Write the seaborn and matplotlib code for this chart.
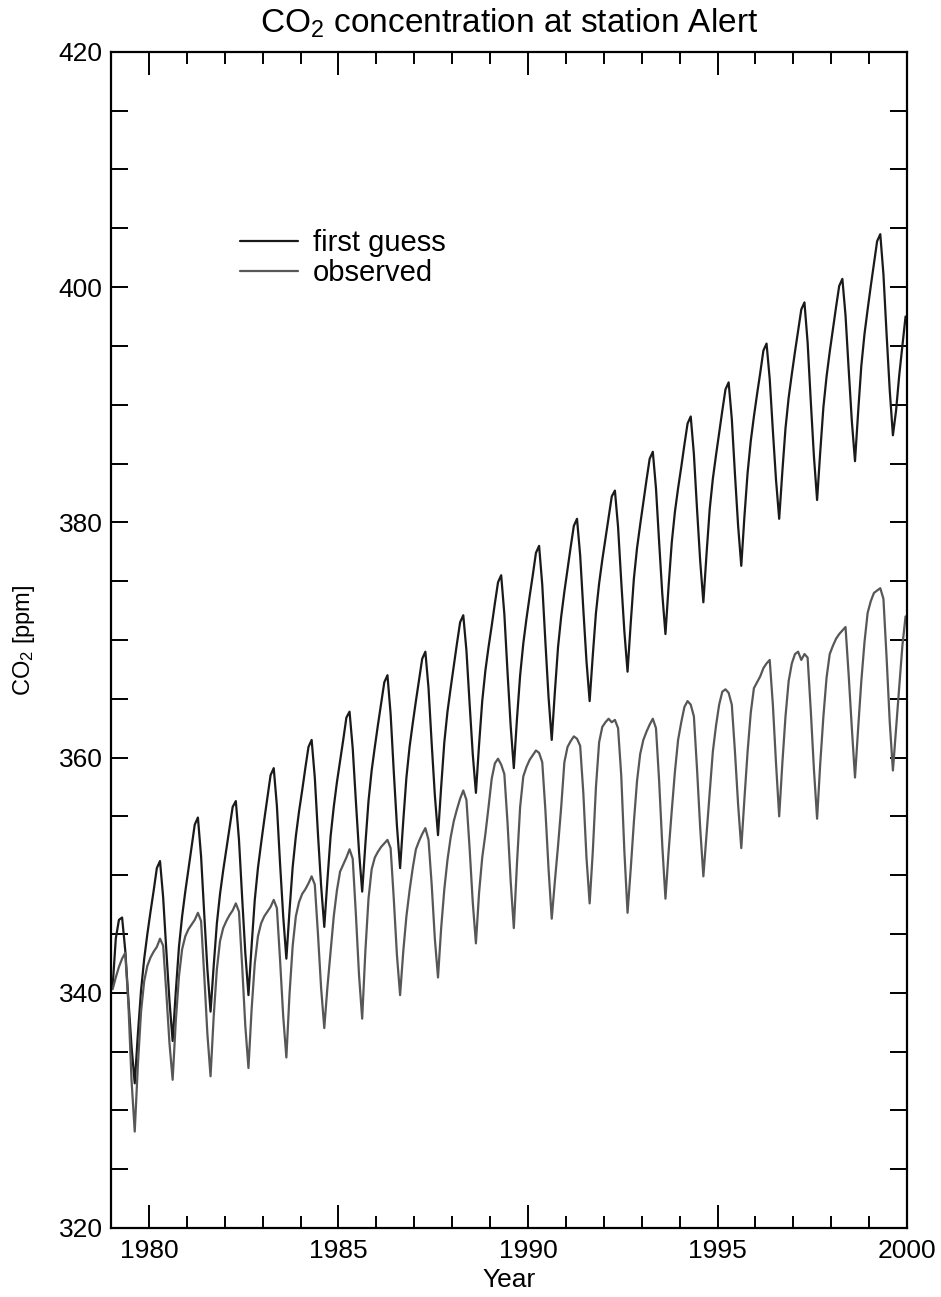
import pandas as pd
import seaborn as sns
import matplotlib
matplotlib.use("Agg")
import matplotlib.pyplot as plt
from matplotlib.ticker import MultipleLocator

# monthly values (ppm), one row per year Jan..Dec
years = list(range(1979, 2000))
months = ['Jan', 'Feb', 'Mar', 'Apr', 'May', 'Jun',
          'Jul', 'Aug', 'Sep', 'Oct', 'Nov', 'Dec']

first_guess = [
    [340.5, 344.6, 346.2, 346.4, 343.6, 339.4, 335.4, 332.3, 336.5, 340.2, 342.9, 345.0],
    [346.9, 348.7, 350.6, 351.2, 348.1, 343.6, 339.3, 335.9, 340.1, 343.9, 346.5, 348.6],
    [350.5, 352.4, 354.3, 354.9, 351.6, 346.7, 342.0, 338.4, 342.3, 345.9, 348.4, 350.4],
    [352.2, 354.0, 355.8, 356.3, 353.0, 348.1, 343.4, 339.8, 344.0, 347.9, 350.6, 352.7],
    [354.7, 356.6, 358.5, 359.1, 355.9, 351.0, 346.5, 342.9, 347.0, 350.7, 353.3, 355.4],
    [357.2, 359.1, 360.9, 361.5, 358.3, 353.5, 349.1, 345.6, 349.6, 353.3, 355.8, 357.9],
    [359.7, 361.5, 363.4, 363.9, 360.8, 356.3, 352.0, 348.6, 352.6, 356.3, 358.9, 360.9],
    [362.8, 364.6, 366.4, 367.0, 363.7, 358.8, 354.2, 350.6, 354.6, 358.3, 360.9, 362.9],
    [364.8, 366.6, 368.4, 369.0, 365.9, 361.2, 356.8, 353.4, 357.5, 361.3, 363.9, 365.9],
    [367.8, 369.7, 371.5, 372.1, 369.1, 364.6, 360.3, 357.0, 361.1, 364.8, 367.4, 369.4],
    [371.2, 373.1, 374.9, 375.5, 372.2, 367.3, 362.7, 359.1, 363.3, 367.0, 369.7, 371.8],
    [373.7, 375.5, 377.4, 378.0, 374.7, 369.8, 365.1, 361.5, 365.6, 369.4, 372.0, 374.1],
    [376.0, 377.9, 379.7, 380.3, 377.2, 372.6, 368.2, 364.8, 368.7, 372.3, 374.8, 376.8],
    [378.6, 380.4, 382.2, 382.7, 379.6, 375.0, 370.7, 367.3, 371.4, 375.2, 377.8, 379.8],
    [381.7, 383.6, 385.4, 386.0, 382.9, 378.3, 373.9, 370.5, 374.6, 378.3, 380.9, 382.9],
    [384.7, 386.6, 388.4, 389.0, 385.8, 381.1, 376.7, 373.2, 377.3, 381.1, 383.7, 385.7],
    [387.6, 389.5, 391.3, 391.9, 388.8, 384.1, 379.7, 376.3, 380.5, 384.2, 386.9, 389.0],
    [390.9, 392.7, 394.6, 395.2, 392.2, 387.8, 383.6, 380.3, 384.3, 388.0, 390.6, 392.6],
    [394.5, 396.3, 398.1, 398.7, 395.3, 390.3, 385.6, 381.9, 386.0, 389.8, 392.4, 394.5],
    [396.4, 398.3, 400.1, 400.7, 397.6, 393.0, 388.6, 385.2, 389.4, 393.3, 396.0, 398.1],
    [400.1, 402.0, 403.9, 404.5, 401.1, 396.0, 391.2, 387.4, 389.5, 392.5, 395.0, 397.5],
]

observed = [
    [340.3, 341.3, 342.2, 342.9, 343.4, 339.0, 332.5, 328.2, 333.9, 338.4, 341.0, 342.3],
    [343.0, 343.5, 343.9, 344.6, 344.0, 340.0, 335.7, 332.6, 337.6, 341.4, 343.7, 344.8],
    [345.4, 345.8, 346.2, 346.8, 346.1, 341.5, 336.5, 332.9, 338.0, 342.0, 344.4, 345.5],
    [346.1, 346.6, 347.0, 347.6, 346.9, 342.3, 337.2, 333.6, 338.6, 342.5, 344.8, 345.9],
    [346.5, 346.9, 347.3, 347.9, 347.2, 342.8, 338.0, 334.5, 339.9, 344.0, 346.5, 347.7],
    [348.4, 348.8, 349.3, 349.9, 349.2, 345.0, 340.4, 337.0, 340.5, 343.5, 346.5, 348.7],
    [350.3, 350.9, 351.5, 352.2, 351.4, 346.7, 341.5, 337.8, 343.5, 348.0, 350.5, 351.5],
    [352.0, 352.4, 352.7, 353.0, 352.3, 348.0, 343.2, 339.8, 343.5, 346.5, 348.7, 350.6],
    [352.2, 352.9, 353.5, 354.0, 353.0, 349.2, 344.6, 341.3, 345.5, 348.8, 351.3, 353.2],
    [354.6, 355.6, 356.5, 357.2, 356.4, 352.3, 347.7, 344.2, 348.5, 351.5, 353.5, 355.8],
    [358.2, 359.5, 359.9, 359.4, 358.6, 354.5, 349.5, 345.5, 351.0, 355.8, 358.4, 359.2],
    [359.8, 360.2, 360.6, 360.4, 359.6, 355.5, 350.5, 346.3, 349.5, 352.5, 355.8, 359.6],
    [360.9, 361.4, 361.8, 361.6, 361.0, 357.0, 351.5, 347.6, 352.0, 357.5, 361.3, 362.6],
    [363.0, 363.3, 363.0, 363.2, 362.5, 358.5, 352.0, 346.8, 350.5, 354.5, 358.0, 360.3],
    [361.5, 362.2, 362.8, 363.3, 362.5, 358.0, 352.5, 348.0, 352.0, 355.5, 358.8, 361.5],
    [363.0, 364.3, 364.8, 364.5, 363.5, 359.0, 354.0, 349.9, 353.5, 357.0, 360.5, 362.7],
    [364.5, 365.6, 365.8, 365.5, 364.5, 360.5, 356.0, 352.3, 356.5, 360.5, 363.8, 365.9],
    [366.4, 366.9, 367.6, 368.0, 368.3, 364.5, 359.5, 355.0, 359.5, 363.5, 366.5, 368.0],
    [368.8, 369.0, 368.3, 368.8, 368.5, 364.0, 359.0, 354.8, 359.5, 363.5, 366.8, 368.8],
    [369.5, 370.1, 370.5, 370.8, 371.1, 367.0, 362.5, 358.3, 362.5, 366.5, 369.8, 372.3],
    [373.3, 374.0, 374.2, 374.4, 373.5, 368.5, 363.0, 358.9, 362.5, 366.0, 369.5, 372.0],
]

series_names = ['first guess', 'observed']
line_colors = {'first guess': '#1a1a1a', 'observed': '#575757'}

rows = []
for name, table in zip(series_names, [first_guess, observed]):
    for yr, vals in zip(years, table):
        for m, v in enumerate(vals):
            rows.append({'time': yr + (m + 0.5) / 12, 'co2': v, 'series': name})
df = pd.DataFrame(rows)

sns.set_theme(style='white')
plt.rcParams['font.family'] = ['Liberation Sans', 'DejaVu Sans']
plt.rcParams['mathtext.fontset'] = 'custom'
plt.rcParams['mathtext.rm'] = 'Liberation Sans'
plt.rcParams['mathtext.default'] = 'regular'
plt.rcParams['text.color'] = 'black'
plt.rcParams['axes.labelcolor'] = 'black'

fig, ax = plt.subplots(figsize=(9.41, 12.97), dpi=100)
fig.subplots_adjust(left=0.118, right=0.964, bottom=0.0532, top=0.96)

sns.lineplot(data=df, x='time', y='co2', hue='series', palette=line_colors,
             linewidth=1.6, estimator=None, ax=ax)

ax.set_xlim(1979, 2000)
ax.set_ylim(320, 420)
ax.xaxis.set_major_locator(MultipleLocator(5))
ax.xaxis.set_minor_locator(MultipleLocator(1))
ax.yaxis.set_major_locator(MultipleLocator(20))
ax.yaxis.set_minor_locator(MultipleLocator(5))

ax.tick_params(which='both', direction='in', top=True, right=True,
               bottom=True, left=True, width=1.4, colors='black',
               labelcolor='black', labelsize=19)
ax.tick_params(axis='x', which='major', length=16.5, pad=8)
ax.tick_params(axis='x', which='minor', length=8.5)
ax.tick_params(axis='y', which='both', length=12, pad=6)
for sp in ax.spines.values():
    sp.set_linewidth(1.6)
    sp.set_color('black')

ax.set_title(r'CO$_2$ concentration at station Alert', fontsize=24, pad=14,
             color='black')
ax.set_xlabel('Year', fontsize=19)
ax.xaxis.set_label_coords(0.5, -0.034)
ax.set_ylabel(r'CO$_2$ [ppm]', fontsize=17)
ax.yaxis.set_label_coords(-0.093, 0.5)

leg = ax.get_legend()
handles = leg.legend_handles
labels = [t.get_text() for t in leg.get_texts()]
ax.legend(handles, labels, loc='upper left', bbox_to_anchor=(0.162, 0.849),
          frameon=False, fontsize=21, handlelength=2.0, handletextpad=0.5,
          labelspacing=0.05, borderpad=0, borderaxespad=0)

fig.savefig('out.png', dpi=100)
